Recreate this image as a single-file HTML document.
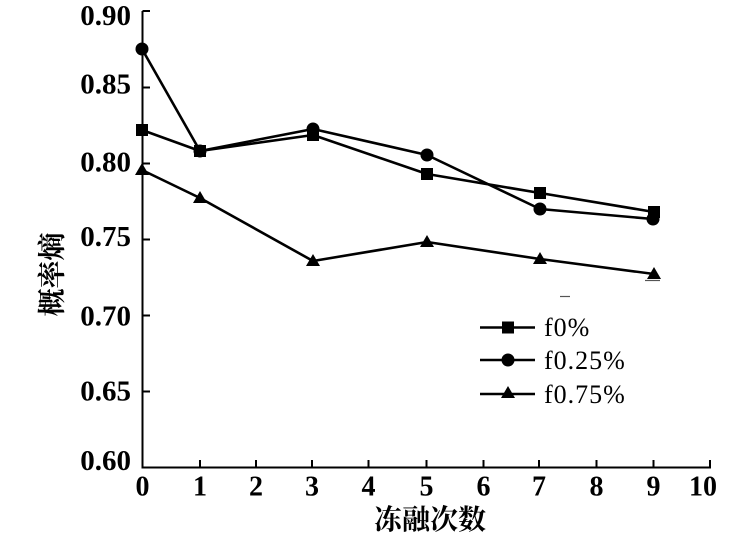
<!DOCTYPE html>
<html><head><meta charset="utf-8"><style>
html,body{margin:0;padding:0;background:#fff;}
svg{display:block;}
</style></head><body>
<svg width="732" height="538" viewBox="0 0 732 538" xmlns="http://www.w3.org/2000/svg">
<g stroke="#000" stroke-width="2" fill="none">
  <line x1="142.5" y1="11" x2="142.5" y2="468.5"/>
  <line x1="141.5" y1="467.5" x2="711" y2="467.5"/>
  <!-- y ticks -->
  <line x1="142.5" y1="11" x2="150" y2="11"/>
  <line x1="142.5" y1="87.5" x2="150" y2="87.5"/>
  <line x1="142.5" y1="163.5" x2="150" y2="163.5"/>
  <line x1="142.5" y1="239.5" x2="150" y2="239.5"/>
  <line x1="142.5" y1="315.5" x2="150" y2="315.5"/>
  <line x1="142.5" y1="391.5" x2="150" y2="391.5"/>
  <!-- x ticks -->
  <line x1="200" y1="467.5" x2="200" y2="460"/>
  <line x1="256" y1="467.5" x2="256" y2="460"/>
  <line x1="312" y1="467.5" x2="312" y2="460"/>
  <line x1="368.5" y1="467.5" x2="368.5" y2="460"/>
  <line x1="426.5" y1="467.5" x2="426.5" y2="460"/>
  <line x1="483.5" y1="467.5" x2="483.5" y2="460"/>
  <line x1="539" y1="467.5" x2="539" y2="460"/>
  <line x1="596.5" y1="467.5" x2="596.5" y2="460"/>
  <line x1="653.5" y1="467.5" x2="653.5" y2="460"/>
  <line x1="710" y1="467.5" x2="710" y2="460"/>
</g>
<g font-family="'Liberation Serif', serif" font-weight="bold" font-size="29" fill="#000" text-anchor="end">
  <text x="131" y="25">0.90</text>
  <text x="131" y="93.5">0.85</text>
  <text x="131" y="171.5">0.80</text>
  <text x="131" y="246">0.75</text>
  <text x="131" y="325.5">0.70</text>
  <text x="131" y="400.5">0.65</text>
  <text x="131" y="470">0.60</text>
</g>
<g font-family="'Liberation Serif', serif" font-weight="bold" font-size="28" fill="#000" text-anchor="middle">
  <text x="142.5" y="495.5">0</text>
  <text x="200" y="495.5">1</text>
  <text x="256" y="495.5">2</text>
  <text x="312" y="495.5">3</text>
  <text x="368.5" y="495.5">4</text>
  <text x="426.5" y="495.5">5</text>
  <text x="483.5" y="495.5">6</text>
  <text x="539" y="495.5">7</text>
  <text x="596.5" y="495.5">8</text>
  <text x="653.5" y="495.5">9</text>
  <text x="703" y="495.5">10</text>
</g>
<text x="430" y="529" font-family="'Liberation Serif','Noto Serif CJK SC',serif" font-weight="bold" font-size="28" text-anchor="middle" fill="#000">冻融次数</text>
<text transform="translate(61.5,274.5) rotate(-90)" x="0" y="0" font-family="'Liberation Serif','Noto Serif CJK SC',serif" font-weight="bold" font-size="28" text-anchor="middle" fill="#000">概率熵</text>

<!-- series -->
<g stroke="#000" stroke-width="2.6" fill="none" stroke-linejoin="round">
  <polyline points="142,130 200,151 313,135 427,174 540,193 654,212"/>
  <polyline points="142,49 200,151 313,129 427,155 540,209 653,219"/>
  <polyline points="142,170 200,198 313,261 427,242 540,259 654,274"/>
</g>
<g fill="#000">
  <rect x="136" y="124" width="12" height="12"/>
  <rect x="194" y="145" width="12" height="12"/>
  <rect x="307" y="129" width="12" height="12"/>
  <rect x="421" y="168" width="12" height="12"/>
  <rect x="534" y="187" width="12" height="12"/>
  <rect x="648" y="206" width="12" height="12"/>
  <circle cx="142" cy="49" r="6.5"/>
  <circle cx="200" cy="151" r="6.5"/>
  <circle cx="313" cy="129" r="6.5"/>
  <circle cx="427" cy="155" r="6.5"/>
  <circle cx="540" cy="209" r="6.5"/>
  <circle cx="653" cy="219" r="6.5"/>
  <polygon points="142,163 135,175 149,175"/>
  <polygon points="200,191 193,203 207,203"/>
  <polygon points="313,254 306,266 320,266"/>
  <polygon points="427,235 420,247 434,247"/>
  <polygon points="540,252 533,264 547,264"/>
  <polygon points="654,267 647,279 661,279"/>
</g>

<!-- legend -->
<g stroke="#000" stroke-width="2.6">
  <line x1="480" y1="327.5" x2="535" y2="327.5"/>
  <line x1="480" y1="360" x2="535" y2="360"/>
  <line x1="480" y1="394" x2="535" y2="394"/>
</g>
<g fill="#000">
  <rect x="502" y="321.5" width="12" height="12"/>
  <circle cx="508" cy="360" r="6.5"/>
  <polygon points="508,386 501,398 515,398"/>
</g>
<g font-family="'Liberation Serif', serif" font-size="26" letter-spacing="1" fill="#000">
  <text x="544" y="336">f0%</text>
  <text x="544" y="369">f0.25%</text>
  <text x="544" y="403">f0.75%</text>
</g>
<g stroke="#555" stroke-width="1.2">
  <line x1="560" y1="296.5" x2="570" y2="296.5"/>
  <line x1="645" y1="280.5" x2="660" y2="280.5"/>
</g>
</svg>
</body></html>
